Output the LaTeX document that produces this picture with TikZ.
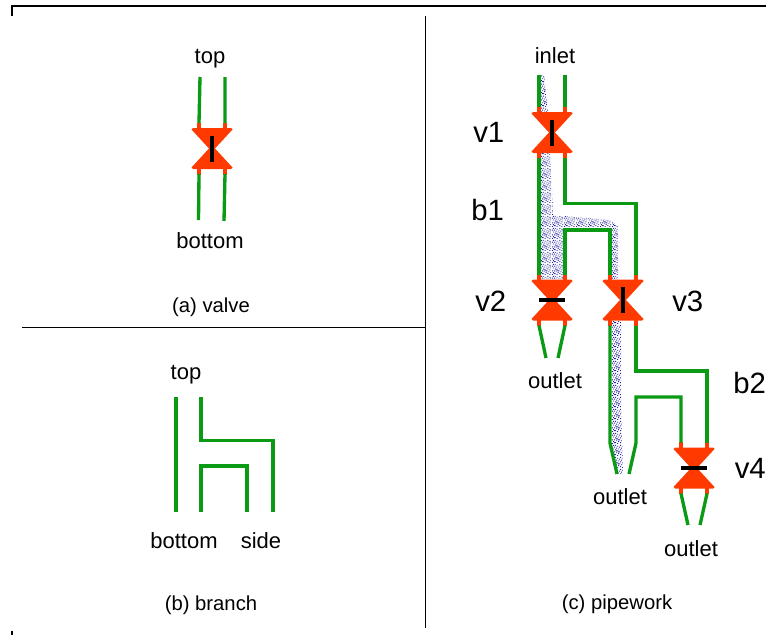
\documentclass[tikz,border=0pt]{standalone}
\usepackage{fontspec}
\setmainfont{Liberation Sans}
\usetikzlibrary{patterns}
\definecolor{pipegreen}{HTML}{0A9A14}
\definecolor{valvered}{HTML}{FF3A00}
\definecolor{dotblue}{HTML}{24249E}
\pgfdeclarepatternformonly{noisydots}{\pgfqpoint{0pt}{0pt}}{\pgfqpoint{9pt}{9pt}}{\pgfqpoint{9pt}{9pt}}{%
  \foreach \a/\b in {0/0,3/1,5/0,8/1,10/0,1/2,6/2,4/3,9/3,11/2,0/4,2/4,7/4,5/5,10/5,3/6,8/6,
                     1/7,6/7,11/7,4/8,9/8,0/9,2/9,7/9,5/10,10/10,3/11,8/11,1/11,6/4,11/9,4/5,2/1}{
    \pgfpathrectangle{\pgfpoint{0.75*\a pt}{0.75*\b pt}}{\pgfqpoint{0.75pt}{0.75pt}}
  }
  \pgfusepath{fill}
}
\tikzset{
  pipe/.style={draw=pipegreen,line width=2.5pt,line join=miter},
  stub/.style={draw=valvered,line width=2.5pt},
  vbar/.style={draw=black,line width=2.6pt},
  divider/.style={draw=black,line width=0.75pt},
  frameline/.style={draw=black,line width=1.5pt},
  lbl/.style={inner sep=0pt,font=\fontsize{16.5pt}{18pt}\selectfont},
  captxt/.style={inner sep=0pt,font=\fontsize{15.2pt}{17pt}\selectfont},
  tagtxt/.style={inner sep=0pt,anchor=base west,font=\fontsize{22pt}{24pt}\selectfont},
  dottedarea/.style={pattern=noisydots,pattern color=dotblue,draw=none},
  pics/valve/.style={code={
    \coordinate (-tl) at (-13,-25.5);
    \coordinate (-tr) at (13,-25.5);
    \coordinate (-bl) at (-13,25.5);
    \coordinate (-br) at (13,25.5);
    \draw[stub] (-13,-26) -- (-13,-20) (13,-26) -- (13,-20) (-13,20) -- (-13,26) (13,20) -- (13,26);
    \fill[valvered] (-19,-20.5) -- (19,-20.5) -- (20.5,-19) -- (3,0) -- (20.5,19) -- (19,20.5)
      -- (-19,20.5) -- (-20.5,19) -- (-3,0) -- (-20.5,-19) -- cycle;
    \draw[vbar] #1;
  }},
}
\begin{document}
\begin{tikzpicture}[x=0.75pt,y=-0.75pt]
\useasboundingbox (0,0) rectangle (766,635);
% frame and dividers
\draw[frameline] (12,16) -- (12,5.7) -- (766,5.7);
\draw[frameline] (12,631) -- (12,635);
\draw[divider] (425.5,16) -- (425.5,628);
\draw[divider] (22,327.5) -- (425.5,327.5);
% dotted flow
\path[dottedarea] (541,75) -- (544,75) -- (548,112) -- (541,112) -- cycle;
\path[dottedarea] (541,153) -- (550,153) -- (552,190) -- (553,215) -- (610,220) -- (618,226) -- (618,279)
  -- (609,279) -- (609,231) -- (563,231) -- (563,279) -- (541,279) -- cycle;
\path[dottedarea] (612,321) -- (621,321) -- (621,400) -- (623,474) -- (617,474) -- (612,445) -- cycle;
% valve panel
\pic (va) at (212,148.5) {valve={(0,-13) -- (0,13)}};
\coordinate (vaTL) at (200,77);
\coordinate (vaTR) at (225,77);
\coordinate (vaBL) at (198.5,220);
\coordinate (vaBR) at (224,221);
\draw[pipe] (vaTL) -- (va-tl) (vaTR) -- (va-tr) (va-bl) -- (vaBL) (va-br) -- (vaBR);
\node[lbl] (atop) at (210,59) {top};
\node[lbl] (abot) at (210,241) {bottom};
\node[captxt] (acap) at (211,307) {(a) valve};
% branch panel
\coordinate (bA) at (176,397); \coordinate (bB) at (176,512);
\coordinate (bC) at (201,397); \coordinate (bD) at (273,512);
\coordinate (bE) at (201,512); \coordinate (bF) at (247,512);
\draw[pipe] (bA) -- (bB);
\draw[pipe] (bC) |- (273,440.5) -- (bD);
\draw[pipe] (bE) |- (247,466) -- (bF);
\node[lbl] (btop) at (186,375) {top};
\node[lbl] (bbot) at (184,541) {bottom};
\node[lbl] (bsid) at (261,541) {side};
\node[captxt] (bcap) at (211,605) {(b) branch};
% pipework panel
\pic (v1) at (552,132.5) {valve={(0,-13) -- (0,13)}};
\pic (v2) at (552,300) {valve={(-13,0) -- (13,0)}};
\pic (v3) at (623,300) {valve={(0,-13) -- (0,13)}};
\pic (v4) at (694,468) {valve={(-13,0) -- (13,0)}};
\coordinate (inL) at (539,75); \coordinate (inR) at (565,75);
\coordinate (o2L) at (546,358); \coordinate (o2R) at (558,358);
\coordinate (o3L) at (617,474); \coordinate (o3R) at (629,474);
\coordinate (o4L) at (688,525); \coordinate (o4R) at (700,525);
\draw[pipe] (inL) -- (v1-tl) (inR) -- (v1-tr);
\draw[pipe] (v1-bl) -- (v2-tl);
\draw[pipe] (v1-br) |- (636,203.5) -- (v3-tr);
\draw[pipe] (v2-tr) |- (610,230) -- (v3-tl);
\draw[pipe] (v2-bl) -- (o2L) (v2-br) -- (o2R);
\draw[pipe] (v3-bl) -- (610,443) -- (o3L);
\draw[pipe] (v3-br) |- (707,371) -- (v4-tr);
\draw[pipe] (o3R) -- (636,443) |- (681,397) -- (v4-tl);
\draw[pipe] (v4-bl) -- (o4L) (v4-br) -- (o4R);
\node[lbl] (inl) at (555,56) {inlet};
\node[tagtxt] (t1) at (473,142) {v1};
\node[tagtxt] (tb1) at (471,220) {b1};
\node[tagtxt] (t2) at (475,311) {v2};
\node[tagtxt] (t3) at (672,311) {v3};
\node[tagtxt] (tb2) at (733,393) {b2};
\node[tagtxt] (t4) at (734.5,478) {v4};
\node[lbl] (out2) at (555,381) {outlet};
\node[lbl] (out3) at (620,497) {outlet};
\node[lbl] (out4) at (691,549) {outlet};
\node[captxt] (ccap) at (617,604) {(c) pipework};
\end{tikzpicture}
\end{document}
